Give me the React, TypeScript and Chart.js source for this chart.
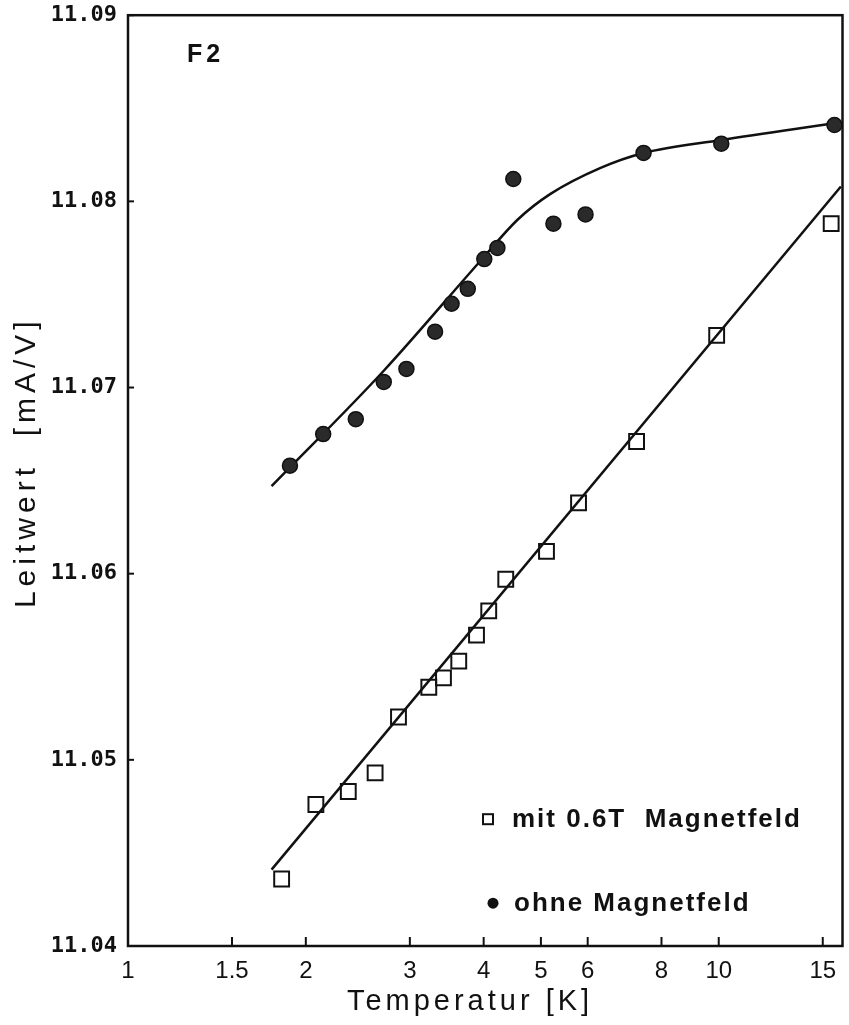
import React, { useEffect, useRef } from "react";
import { Chart, registerables } from "chart.js";

Chart.register(...registerables);

// Messpunkte ohne Magnetfeld (gefüllte Kreise)
const tempOhne = [1.88, 2.14, 2.43, 2.71, 2.96, 3.31, 3.53, 3.76, 4.01, 4.22, 4.49, 5.25, 5.95, 7.46, 10.1, 15.7];
const leitOhne = [11.0658, 11.0675, 11.0683, 11.0703, 11.071, 11.073, 11.0745, 11.0753, 11.0769, 11.0775, 11.0812, 11.0788, 11.0793, 11.0826, 11.0831, 11.0841];

// Messpunkte mit 0.6 T Magnetfeld (offene Quadrate)
const tempMit = [1.82, 2.08, 2.36, 2.62, 2.87, 3.23, 3.42, 3.63, 3.89, 4.08, 4.36, 5.11, 5.79, 7.26, 9.92, 15.5];
const leitMit = [11.0436, 11.0476, 11.0483, 11.0493, 11.0523, 11.0539, 11.0544, 11.0553, 11.0567, 11.058, 11.0597, 11.0612, 11.0638, 11.0671, 11.0728, 11.0788];

// Ausgleichskurven
const fitOhneT = [1.75, 2.71, 4.0, 4.56, 5.19, 6.31, 7.46, 10.1, 15.7];
const fitOhneG = [11.0647, 11.0709, 11.077, 11.079, 11.0804, 11.0818, 11.0826, 11.0833, 11.0842];
const fitMitT = [1.75, 16.1];
const fitMitG = [11.0441, 11.0808];

const xTicks = [1, 1.5, 2, 3, 4, 5, 6, 8, 10, 15];
const yTicks = [11.04, 11.05, 11.06, 11.07, 11.08, 11.09];

const xMin = 1;
const xMax = 16.2;
const yMin = 11.04;
const yMax = 11.09;

const INK = "#111";
const SHIFT_Y = 9; // canvas is moved up so the plot frame starts at the page top like the scan

const decor = {
  id: "decor",
  afterDraw(chart: any) {
    const { ctx, chartArea: a, scales } = chart;
    ctx.save();
    ctx.strokeStyle = INK;
    ctx.fillStyle = INK;
    ctx.lineWidth = 2.5;
    ctx.strokeRect(a.left, a.top, a.right - a.left, a.bottom - a.top);

    ctx.lineWidth = 2;
    xTicks.forEach((v) => {
      const x = scales.x.getPixelForValue(v);
      ctx.beginPath();
      ctx.moveTo(x, a.bottom);
      ctx.lineTo(x, a.bottom - 9);
      ctx.stroke();
    });
    yTicks.forEach((v) => {
      const y = scales.y.getPixelForValue(v);
      ctx.beginPath();
      ctx.moveTo(a.left, y);
      ctx.lineTo(a.left + 6, y);
      ctx.stroke();
    });

    // F2
    ctx.font = "bold 25px 'Liberation Sans', Arial, sans-serif";
    (ctx as any).letterSpacing = "4px";
    ctx.textAlign = "left";
    ctx.textBaseline = "alphabetic";
    ctx.fillText("F2", a.left + 59, a.top + 47);

    // Legende
    (ctx as any).letterSpacing = "2px";
    ctx.font = "bold 26px 'Liberation Sans', Arial, sans-serif";
    ctx.textBaseline = "middle";
    const sqX = a.left + 360;
    const sqY = a.top + 804;
    ctx.lineWidth = 2;
    ctx.strokeRect(sqX - 5, sqY - 5, 10, 10);
    ctx.fillText("mit 0.6T  Magnetfeld", a.left + 384, sqY + 1);
    const cX = a.left + 365;
    const cY = a.top + 888;
    ctx.beginPath();
    ctx.arc(cX, cY, 5.5, 0, Math.PI * 2);
    ctx.fill();
    ctx.fillText("ohne Magnetfeld", a.left + 386, cY + 1);

    // Achsentitel
    ctx.font = "29px 'Liberation Sans', Arial, sans-serif";
    (ctx as any).letterSpacing = "4px";
    ctx.textAlign = "center";
    ctx.textBaseline = "middle";
    ctx.fillText("Temperatur [K]", 470, a.bottom + 56);

    ctx.save();
    ctx.translate(27, a.top + 447);
    ctx.rotate(-Math.PI / 2);
    (ctx as any).letterSpacing = "5px";
    ctx.font = "30px 'Liberation Sans', Arial, sans-serif";
    ctx.fillText("Leitwert  [mA/V]", 0, 0);
    ctx.restore();

    ctx.restore();
  },
};

export default function App() {
  const ref = useRef<HTMLCanvasElement | null>(null);

  useEffect(() => {
    if (!ref.current) return;
    const pts = (xs: number[], ys: number[]) => xs.map((x, i) => ({ x, y: ys[i] }));
    const chart = new Chart(ref.current, {
      type: "scatter",
      data: {
        datasets: [
          {
            label: "ohne Magnetfeld",
            data: pts(tempOhne, leitOhne),
            pointStyle: "circle",
            pointRadius: 7.5,
            backgroundColor: "#2a2a2a",
            borderColor: INK,
            borderWidth: 1.5,
            showLine: false,
          },
          {
            label: "mit 0.6T Magnetfeld",
            data: pts(tempMit, leitMit),
            pointStyle: "rect",
            pointRadius: 10.5,
            backgroundColor: "rgba(255,255,255,0)",
            borderColor: INK,
            borderWidth: 2,
            showLine: false,
          },
          {
            label: "Fit ohne",
            data: pts(fitOhneT, fitOhneG),
            showLine: true,
            pointRadius: 0,
            borderColor: INK,
            borderWidth: 2.5,
            cubicInterpolationMode: "monotone",
          } as any,
          {
            label: "Fit mit",
            data: pts(fitMitT, fitMitG),
            showLine: true,
            pointRadius: 0,
            borderColor: INK,
            borderWidth: 2.5,
          },
        ],
      },
      options: {
        animation: false,
        responsive: false,
        layout: { padding: { top: 6, right: 1, left: 0, bottom: 0 } },
        plugins: {
          legend: { display: false },
          tooltip: { enabled: false },
        },
        scales: {
          x: {
            type: "logarithmic",
            min: xMin,
            max: xMax,
            grid: { display: false, drawTicks: false },
            border: { display: false },
            afterBuildTicks: (s: any) => {
              s.ticks = xTicks.map((v) => ({ value: v }));
            },
            afterFit: (s: any) => {
              s.height = 79;
            },
            ticks: {
              autoSkip: false,
              maxRotation: 0,
              padding: 11,
              color: INK,
              font: { family: "'Liberation Sans', Arial, sans-serif", size: 24 },
              callback: (v: any) => String(v),
            },
          },
          y: {
            type: "linear",
            min: yMin,
            max: yMax,
            grid: { display: false, drawTicks: false },
            border: { display: false },
            afterBuildTicks: (s: any) => {
              s.ticks = yTicks.map((v) => ({ value: v }));
            },
            afterFit: (s: any) => {
              s.width = 128;
            },
            ticks: {
              padding: 11,
              color: INK,
              font: { family: "'DejaVu Sans Mono', monospace", size: 22, weight: "bold" },
              callback: (v: any) => Number(v).toFixed(2),
            },
          },
        },
      },
      plugins: [decor],
    });
    return () => chart.destroy();
  }, []);

  return (
    <div
      style={{
        position: "absolute",
        left: 0,
        top: 0,
        width: 849,
        height: 1025,
        overflow: "hidden",
        background: "#fff",
      }}
    >
      <canvas
        ref={ref}
        width={855}
        height={1025 + SHIFT_Y}
        style={{ display: "block", position: "absolute", left: 0, top: -SHIFT_Y }}
      />
    </div>
  );
}
